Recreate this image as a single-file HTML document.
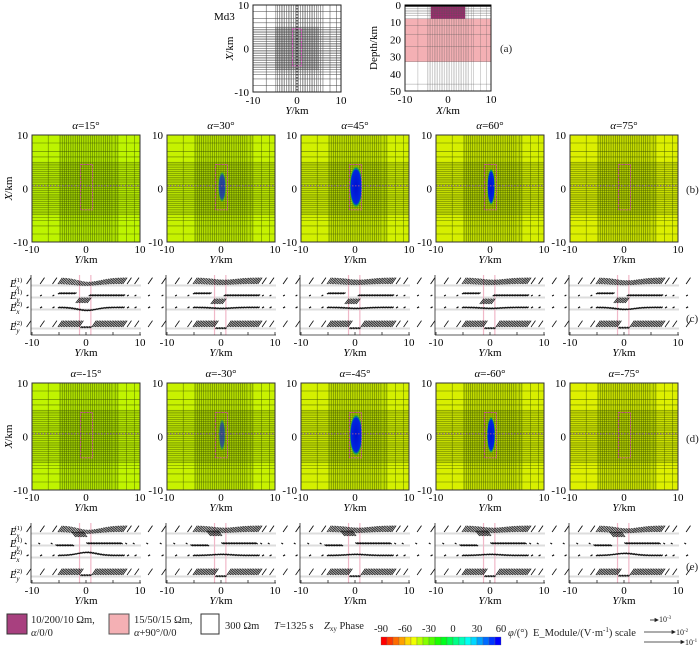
<!DOCTYPE html>
<html><head><meta charset="utf-8"><style>
html,body{margin:0;padding:0;background:#fff}
svg{display:block;font-family:"Liberation Serif",serif}
</style></head><body>
<svg id="fig" width="700" height="649" viewBox="0 0 700 649" xmlns="http://www.w3.org/2000/svg">
<g font-size="10.5" fill="#222">
 <rect x="7" y="614" width="20" height="20" fill="#a8407f" stroke="#333"/>
 <text x="31" y="623">10/200/10 Ωm,</text>
 <text x="31" y="636"><tspan font-style="italic">α</tspan>/0/0</text>
 <rect x="109" y="614" width="20" height="20" fill="#f4b0b4" stroke="#555"/>
 <text x="134" y="623">15/50/15 Ωm,</text>
 <text x="134" y="636"><tspan font-style="italic">α</tspan>+90°/0/0</text>
 <rect x="201" y="614" width="18" height="20" fill="#fff" stroke="#333"/>
 <text x="225" y="629">300 Ωm</text>
 <text x="274" y="629"><tspan font-style="italic">T</tspan>=1325 s</text>
 <text x="324" y="629"><tspan font-style="italic">Z</tspan><tspan font-size="7" dy="2">xy</tspan><tspan dy="-2"> Phase</tspan></text>
 <g id="cbar"></g>
 <text x="508" y="636"><tspan font-style="italic">φ</tspan>/(°)</text>
 <text x="533" y="636">E_Module/(V·m<tspan font-size="7" dy="-4">-1</tspan><tspan dy="4">) scale</tspan></text>
 <g stroke="#222" stroke-width="0.8">
  <line x1="650" y1="620" x2="655" y2="620"/><path d="M655,618.5 L658,620 L655,621.5Z" fill="#222"/>
  <line x1="644" y1="632" x2="672" y2="632"/><path d="M672,630.5 L675,632 L672,633.5Z" fill="#222"/>
  <line x1="644" y1="642" x2="681" y2="642"/><path d="M681,640.5 L684,642 L681,643.5Z" fill="#222"/>
 </g>
 <text x="659" y="622" font-size="8">10<tspan font-size="5" dy="-3">-3</tspan></text>
 <text x="676" y="635" font-size="8">10<tspan font-size="5" dy="-3">-2</tspan></text>
 <text x="685" y="645" font-size="8">10<tspan font-size="5" dy="-3">-1</tspan></text>
</g>
<g font-size="11" fill="#222">
 <text x="500" y="52">(a)</text>
 <text x="686" y="193">(b)</text>
 <text x="686" y="322">(c)</text>
 <text x="686" y="442">(d)</text>
 <text x="686" y="570">(e)</text>
</g>
</svg>
<script>
// ===== data =====
const alphas = [15,30,45,60,75,-15,-30,-45,-60,-75];
const anomalyStrength = [0,0.7,1,1,0,0,0.6,1,1,0];
const anomalyHalfWidth = [0,0.6,1.0,0.6,0,0,0.5,1.0,0.65,0];
const anomalyHalfLen = [0,2.5,3.4,3.0,0,0,2.6,3.4,3.0,0];
const bgColors = ['#bdf400','#c6f200','#d2f000','#d6ef00','#dcef00','#c0f400','#c8f200','#d4f000','#d8ef00','#def000'];
const ex1Dip = [3,1.5,1.5,1.5,2,3,1.5,1.5,1.5,2];
const ey1Shift = [7,8,8,8,7,-7,-8,-8,-8,-7];
const ex2Bump = [3,1,1,1,2,-3,-1,-1,-1,-2];
const ey2Drop = [2,4,4,4,3,2,4,4,4,3];
const colorbarTicks = [-90,-60,-30,0,30,60];
const axisTicks = [-10,0,10];
const depthTicks = [0,10,20,30,40,50];
const gridY = [-7,-4.8,-4.4,-4,-3.6,-3.2,-2.8,-2.4,-2,-1.6,-1.2,-0.8,-0.4,0,0.4,0.8,1.2,1.6,2,2.4,2.8,3.2,3.6,4,4.4,4.8,5.4,5.9,7.5,9];
const gridX = [8.5,6.9,5.9,4.8,4.4,4,3.6,3.2,2.8,2.4,2,1.6,1.2,0.8,0.4,0,-0.4,-0.8,-1.2,-1.6,-2,-2.4,-2.8,-3.2,-3.6,-4,-4.4,-4.8,-5.4,-6,-7,-8.5];
const stationsY = [-11,-8.5,-6.2,-5.2,-4.9,-4.6,-4.3,-4,-3.7,-3.4,-3.1,-2.8,-2.5,-2.2,-1.9,-1.6,-1.3,-1,-0.7,-0.4,-0.1,0.2,0.5,0.8,1.1,1.4,1.7,2,2.3,2.6,2.9,3.2,3.5,3.8,4.1,4.4,4.7,5,5.3,5.6,5.9,6.2,6.5,6.8,7.6,9,11.5];

const NS='http://www.w3.org/2000/svg';
const svg=document.getElementById('fig');
function mk(tag,attrs,parent){const e=document.createElementNS(NS,tag);for(const k in attrs)e.setAttribute(k,attrs[k]);(parent||svg).appendChild(e);return e;}

const cb=document.getElementById('cbar');
for(let i=0;i<20;i++){
  const hue=i/19*240;
  const r=mk('rect',{x:381+i*6,y:637,width:6,height:8,fill:'hsl('+hue+',100%,50%)',stroke:'#666','stroke-width':0.3},cb);
  
  
}
colorbarTicks.forEach((v,i)=>{
  const t=mk('text',{x:381+(v+90)/150*120,y:632,'text-anchor':'middle','font-size':10.5},cb);
  
  
  t.textContent=v;
});

(function(){
  const L=253,T=5,W=88,H=87;
  const sx=y=>L+(y+10)/20*W, sy=x=>T+(10-x)/20*H;
  const g=mk('g',{});
  
  
  mk('rect',{x:sx(-5),y:sy(5),width:sx(5)-sx(-5),height:sy(-5)-sy(5),fill:'#cfcfcf'},g);
  gridY.forEach(v=>{const l=mk('line',{x1:sx(v),x2:sx(v),y1:T,y2:T+H,stroke:'#444','stroke-width':0.5},g);});
  gridX.forEach(v=>{const l=mk('line',{x1:L,x2:L+W,y1:sy(v),y2:sy(v),stroke:'#444','stroke-width':0.5},g);});
  mk('rect',{x:sx(-1),y:sy(4.5),width:sx(1)-sx(-1),height:sy(-4)-sy(4.5),fill:'none',stroke:'#e040c0','stroke-dasharray':'2,1','stroke-width':0.8},g);
  mk('line',{x1:sx(0),x2:sx(0),y1:T,y2:T+H,stroke:'#111','stroke-dasharray':'1.5,1.5','stroke-width':1.3},g);
  mk('rect',{x:L,y:T,width:W,height:H,fill:'none',stroke:'#222'},g);
  axisTicks.forEach(v=>{
    let t=mk('text',{x:L-4,y:sy(v)+4,'text-anchor':'end','font-size':11},g);t.textContent=v;
    
    t=mk('text',{x:sx(v),y:T+H+12,'text-anchor':'middle','font-size':11},g);t.textContent=v;
    
  });
  let t=mk('text',{x:214,y:20,'font-size':11},g);t.textContent='Md3';
  
  t=mk('text',{x:L+W/2,y:114,'text-anchor':'middle','font-size':11},g);t.innerHTML='<tspan font-style="italic">Y</tspan>/km';
  
  t=mk('text',{x:0,y:0,'text-anchor':'middle','font-size':11,transform:'translate('+(L-20)+','+(T+H/2)+') rotate(-90)'},g);t.innerHTML='<tspan font-style="italic">X</tspan>/km';
  
})();
(function(){
  const L=405,T=5,W=86,H=86;
  const sx=x=>L+(x+10)/20*W, sy=d=>T+d/50*H;
  const g=mk('g',{});
  
  
  mk('rect',{x:L,y:sy(8),width:W,height:sy(33)-sy(8),fill:'#f4b0b4'},g);
  mk('rect',{x:sx(-4),y:sy(0),width:sx(4)-sx(-4),height:sy(8)-sy(0),fill:'#9e2a6e'},g);
  gridY.forEach(v=>{const l=mk('line',{x1:sx(v),x2:sx(v),y1:T,y2:T+H,stroke:'#555','stroke-opacity':0.5,'stroke-width':0.5},g);});
  [1,2,3,4,5,6,8,12,17,24,33,46].forEach(v=>{const l=mk('line',{x1:L,x2:L+W,y1:sy(v),y2:sy(v),stroke:'#555','stroke-opacity':0.6,'stroke-width':0.5},g);});
  mk('rect',{x:L,y:T,width:W,height:H,fill:'none',stroke:'#222'},g);
  mk('line',{x1:L,x2:L+W,y1:T+0.5,y2:T+0.5,stroke:'#000','stroke-width':2},g);
  depthTicks.forEach(v=>{let t=mk('text',{x:L-4,y:sy(v)+4,'text-anchor':'end','font-size':11},g);t.textContent=v;
    });
  axisTicks.forEach(v=>{let t=mk('text',{x:sx(v),y:T+H+12,'text-anchor':'middle','font-size':11},g);t.textContent=v;
    });
  let t=mk('text',{x:L+W/2,y:114,'text-anchor':'middle','font-size':11},g);t.innerHTML='<tspan font-style="italic">X</tspan>/km';
  
  t=mk('text',{x:0,y:0,'text-anchor':'middle','font-size':11,transform:'translate('+(L-28)+','+(T+H/2)+') rotate(-90)'},g);t.textContent='Depth/km';
  
})();

const colLefts=[32,167,301,436,570];
const defs=mk('defs',{});
alphas.forEach((a,i)=>{
  const rg=mk('radialGradient',{id:'anom'+i},defs);
  mk('stop',{offset:'0%','stop-color':'#0010d0'},rg);
  mk('stop',{offset:(62+anomalyStrength[i]*18)+'%','stop-color':'#0028e0'},rg);
  mk('stop',{offset:'90%','stop-color':'#10a060'},rg);
  mk('stop',{offset:'100%','stop-color':'#40d000','stop-opacity':0},rg);
});
alphas.forEach((a,i)=>{
  const L=colLefts[i%5], T=i<5?135:383, W=108, H=107;
  const sx=y=>L+(y+10)/20*W, sy=x=>T+(10-x)/20*H;
  const g=mk('g',{});
  
  
  mk('rect',{x:L,y:T,width:W,height:H,fill:bgColors[i]},g);
  mk('rect',{x:sx(-5),y:T,width:sx(6)-sx(-5),height:H,fill:'#6a8a00','fill-opacity':0.2},g);
  mk('rect',{x:L,y:sy(5),width:W,height:sy(-5)-sy(5),fill:'#6a8a00','fill-opacity':0.17},g);
  gridY.forEach(v=>{const l=mk('line',{x1:sx(v),x2:sx(v),y1:T,y2:T+H,stroke:'#3a5200','stroke-opacity':0.75,'stroke-width':0.55},g);});
  gridX.forEach(v=>{const l=mk('line',{x1:L,x2:L+W,y1:sy(v),y2:sy(v),stroke:'#3a5200','stroke-opacity':0.75,'stroke-width':0.55},g);});
  if(anomalyStrength[i]>0){
    const e=mk('rect',{x:sx(0.2-anomalyHalfWidth[i]*1.2),y:sy(0.3+anomalyHalfLen[i]*1.15),width:(sx(anomalyHalfWidth[i])-sx(0))*2.4,height:(sy(0)-sy(anomalyHalfLen[i]))*2.3,rx:(sx(anomalyHalfWidth[i])-sx(0))*1.2,fill:'url(#anom'+i+')','fill-opacity':anomalyStrength[i]},g);
    
    
  }
  const r=mk('rect',{x:sx(-1),y:sy(4.5),width:sx(1.2)-sx(-1),height:sy(-4)-sy(4.5),fill:'none',stroke:'#d040b0','stroke-dasharray':'2,1','stroke-width':0.8},g);
  
  const pl=mk('line',{x1:L,x2:L+W,y1:sy(0.5),y2:sy(0.5),stroke:'#8050a0','stroke-dasharray':'1.5,1.5','stroke-width':1.2},g);
  
  mk('rect',{x:L,y:T,width:W,height:H,fill:'none',stroke:'#333'},g);
  let t=mk('text',{x:L+W/2,y:T-6,'text-anchor':'middle','font-size':11},g);
  t.innerHTML='<tspan font-style="italic">α</tspan>='+a+'°';
  
  axisTicks.forEach(v=>{
    let tt=mk('text',{x:L-4,y:sy(v)+4,'text-anchor':'end','font-size':11},g);tt.textContent=v;
    
    tt=mk('text',{x:sx(v),y:T+H+11,'text-anchor':'middle','font-size':11},g);tt.textContent=v;
    
  });
  t=mk('text',{x:L+W/2,y:T+H+21,'text-anchor':'middle','font-size':11},g);t.innerHTML='<tspan font-style="italic">Y</tspan>/km';
  
  if(i%5===0){
    t=mk('text',{x:0,y:0,'text-anchor':'middle','font-size':11,transform:'translate(12,'+(T+H/2)+') rotate(-90)'},g);t.innerHTML='<tspan font-style="italic">X</tspan>/km';
    
  }
});

const rowLabels=[['x','1'],['y','1'],['x','2'],['y','2']];
alphas.forEach((a,i)=>{
  const L=colLefts[i%5]-1, W=110, T=i<5?275:523, H=60;
  const sx=y=>L+1+(y+10)/20*108;
  const bases=[T+9,T+21,T+33,T+52];
  const g=mk('g',{});
  
  
  bases.forEach(b=>mk('line',{x1:L,x2:L+W,y1:b+1.5,y2:b+1.5,stroke:'#ddd','stroke-width':2},g));
  [-1.2,0.9].forEach(v=>mk('line',{x1:sx(v),x2:sx(v),y1:T,y2:T+H,stroke:'#f0b8c8','stroke-width':1.2},g));
  const up=ey1Shift[i]>0?1:-1;
  stationsY.forEach(y=>{
    const x=sx(y), dense=(y>-5.3&&y<7);
    const gauss=Math.exp(-(y*y)/9);
    let len=8-ex1Dip[i]*gauss;
    let ar=mk('line',{x1:x,y1:bases[0]+gauss*ex1Dip[i]*0.6,x2:x+len*0.55,y2:bases[0]-len*0.8+gauss*ex1Dip[i]*0.6,stroke:'#111','stroke-width':dense?0.8:0.9},g);
    
    
    const mid=(y>-2.2&&y<0.4);
    let b1=mid?bases[1]+ey1Shift[i]:(y<0&&dense?bases[1]-2*up:bases[1]);
    let l1=mid?6:(dense?3.5:2.5);
    ar=mk('line',{x1:x,y1:b1,x2:x+l1*0.7*up,y2:b1-l1*(mid?0.9:0.4),stroke:'#111','stroke-width':mid?0.8:1.1},g);
    
    
    let b2=bases[2]+ex2Bump[i]*Math.exp(-(y*y)/6);
    ar=mk('line',{x1:x,y1:b2,x2:x+2,y2:b2-1.2,stroke:'#111','stroke-width':1.2},g);
    
    
    const m2=(y>-1.3&&y<1);
    let b3=m2?bases[3]+ey2Drop[i]*0.5:bases[3];
    let l3=m2?2:8;
    ar=mk('line',{x1:x,y1:b3,x2:x+l3*0.55,y2:b3-l3*0.8,stroke:'#111','stroke-width':m2?1.2:0.8},g);
    
    
  });
  mk('line',{x1:L,x2:L,y1:T,y2:T+H,stroke:'#222','stroke-width':0.8},g);
  mk('line',{x1:L,x2:L+W,y1:T+H,y2:T+H,stroke:'#222','stroke-width':0.8},g);
  [-10,-5,0,5,10].forEach(v=>{const k=mk('line',{x1:sx(v),x2:sx(v),y1:T+H,y2:T+H-3,stroke:'#222','stroke-width':0.8},g);});
  axisTicks.forEach(v=>{let tt=mk('text',{x:sx(v),y:T+H+11,'text-anchor':'middle','font-size':11},g);tt.textContent=v;
    });
  let t=mk('text',{x:L+W/2,y:T+H+21,'text-anchor':'middle','font-size':11},g);t.innerHTML='<tspan font-style="italic">Y</tspan>/km';
  
  if(i%5===0){
    rowLabels.forEach((rl,k)=>{
      const tt=mk('text',{x:10,y:bases[k]+3,'font-size':10.5},g);
      tt.innerHTML='<tspan font-style="italic">E</tspan><tspan font-size="7" font-style="italic" dy="3">'+rl[0]+'</tspan><tspan font-size="6.5" dx="-5" dy="-8">('+rl[1]+')</tspan>';
      
      
    });
  }
});
</script>
</body></html>
